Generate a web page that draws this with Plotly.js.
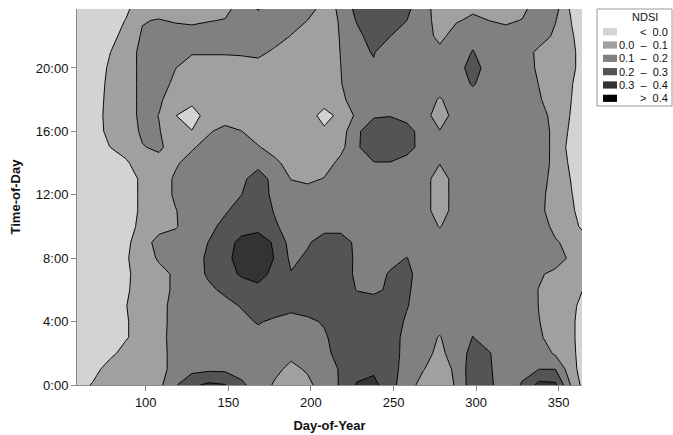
<!DOCTYPE html>
<html>
<head>
<meta charset="utf-8">
<script src="https://cdn.plot.ly/plotly-3.0.1.min.js"></script>
<style>html,body{margin:0;padding:0;background:#fff;}</style>
</head>
<body>
<div id="chart" style="width:673px;height:435px;"></div>
<script>
// Grid of the NDSI field: day-of-year columns, hour-of-day rows
const dayOfYear = [58, 68, 78, 88, 98, 108, 118, 128, 138, 148, 158, 168, 178, 188, 198, 208,
                   218, 228, 238, 248, 258, 268, 278, 288, 298, 308, 318, 328, 338, 348, 358, 366];
const hourOfDay = [0, 1, 2, 3, 4, 5, 6, 7, 8, 9, 10, 11, 12, 13, 14, 15, 16, 17, 18, 19, 20, 21, 22, 23, 24];

// NDSI values, one row per hour (0:00 at the top of the list)
const ndsi = [
  [-0.05, 0.01, 0.04, 0.05, 0.06, 0.073, 0.19, 0.28, 0.32, 0.305, 0.22, 0.15, 0.09, 0.05, 0.08, 0.14, 0.21, 0.31, 0.33, 0.23, 0.15, 0.06, 0.04, 0.11, 0.26, 0.22, 0.14, 0.21, 0.33, 0.32, 0.08, -0.05],
  [-0.05, -0.04, 0.045, 0.05, 0.06, 0.075, 0.125, 0.17, 0.18, 0.18, 0.16, 0.13, 0.12, 0.08, 0.11, 0.15, 0.21, 0.26, 0.28, 0.24, 0.16, 0.105, 0.05, 0.12, 0.26, 0.21, 0.15, 0.17, 0.199, 0.199, 0.03, -0.05],
  [-0.05, -0.05, -0.03, 0.04, 0.05, 0.07, 0.13, 0.15, 0.15, 0.15, 0.14, 0.13, 0.12, 0.12, 0.14, 0.17, 0.24, 0.27, 0.28, 0.24, 0.17, 0.12, 0.085, 0.13, 0.24, 0.205, 0.15, 0.16, 0.16, 0.085, 0.02, -0.05],
  [-0.05, -0.05, -0.04, -0.01, 0.05, 0.07, 0.135, 0.15, 0.16, 0.16, 0.15, 0.16, 0.15, 0.15, 0.16, 0.185, 0.25, 0.27, 0.27, 0.23, 0.18, 0.13, 0.095, 0.15, 0.202, 0.16, 0.15, 0.16, 0.11, 0.07, 0.015, -0.05],
  [-0.05, -0.05, -0.04, -0.01, 0.05, 0.07, 0.13, 0.15, 0.16, 0.16, 0.17, 0.21, 0.18, 0.17, 0.18, 0.21, 0.25, 0.27, 0.27, 0.24, 0.19, 0.15, 0.13, 0.15, 0.18, 0.16, 0.15, 0.15, 0.102, 0.07, 0.015, -0.05],
  [-0.05, -0.05, -0.04, -0.003, 0.05, 0.07, 0.13, 0.15, 0.16, 0.17, 0.207, 0.24, 0.26, 0.224, 0.245, 0.26, 0.27, 0.26, 0.25, 0.26, 0.205, 0.16, 0.15, 0.15, 0.16, 0.15, 0.15, 0.15, 0.098, 0.07, 0.028, -0.05],
  [-0.05, -0.05, -0.04, -0.015, 0.05, 0.07, 0.115, 0.15, 0.18, 0.22, 0.26, 0.27, 0.27, 0.26, 0.26, 0.26, 0.25, 0.195, 0.18, 0.216, 0.213, 0.16, 0.15, 0.15, 0.15, 0.15, 0.15, 0.15, 0.097, 0.07, 0.045, -0.01],
  [-0.05, -0.05, -0.04, -0.02, 0.049, 0.07, 0.115, 0.15, 0.215, 0.27, 0.31, 0.34, 0.27, 0.205, 0.25, 0.26, 0.25, 0.18, 0.16, 0.21, 0.222, 0.16, 0.15, 0.15, 0.15, 0.15, 0.15, 0.15, 0.113, 0.075, 0.055, 0.03],
  [-0.05, -0.05, -0.04, -0.01, 0.049, 0.112, 0.14, 0.16, 0.216, 0.25, 0.37, 0.38, 0.295, 0.18, 0.215, 0.26, 0.26, 0.178, 0.15, 0.17, 0.203, 0.15, 0.15, 0.15, 0.15, 0.15, 0.15, 0.15, 0.15, 0.15, 0.075, 0.05],
  [-0.05, -0.05, -0.04, -0.02, 0.049, 0.14, 0.14, 0.15, 0.202, 0.27, 0.32, 0.34, 0.29, 0.16, 0.19, 0.24, 0.24, 0.18, 0.16, 0.16, 0.16, 0.15, 0.15, 0.15, 0.15, 0.15, 0.15, 0.15, 0.15, 0.11, 0.07, 0.05],
  [-0.05, -0.05, -0.05, -0.04, 0.028, 0.06, 0.093, 0.14, 0.16, 0.24, 0.27, 0.276, 0.213, 0.16, 0.16, 0.17, 0.17, 0.16, 0.15, 0.15, 0.15, 0.15, 0.095, 0.15, 0.15, 0.15, 0.15, 0.15, 0.15, 0.073, 0.04, -0.037],
  [-0.05, -0.05, -0.05, -0.05, 0.02, 0.06, 0.097, 0.13, 0.15, 0.183, 0.26, 0.26, 0.193, 0.16, 0.15, 0.15, 0.15, 0.15, 0.15, 0.15, 0.15, 0.15, 0.04, 0.15, 0.15, 0.15, 0.15, 0.15, 0.116, 0.07, 0.013, -0.05],
  [-0.05, -0.05, -0.05, -0.05, 0.02, 0.06, 0.111, 0.13, 0.15, 0.17, 0.199, 0.26, 0.17, 0.15, 0.15, 0.15, 0.15, 0.15, 0.15, 0.15, 0.15, 0.15, 0.04, 0.15, 0.15, 0.15, 0.15, 0.15, 0.12, 0.07, 0.002, -0.05],
  [-0.05, -0.05, -0.05, -0.05, 0.02, 0.06, 0.111, 0.13, 0.15, 0.16, 0.186, 0.23, 0.18, 0.097, 0.077, 0.105, 0.15, 0.15, 0.15, 0.15, 0.15, 0.15, 0.04, 0.15, 0.15, 0.15, 0.15, 0.15, 0.128, 0.075, -0.008, -0.05],
  [-0.05, -0.05, -0.05, -0.015, 0.056, 0.07, 0.09, 0.13, 0.15, 0.15, 0.16, 0.18, 0.124, 0.06, 0.05, 0.05, 0.13, 0.15, 0.195, 0.195, 0.15, 0.15, 0.105, 0.15, 0.15, 0.15, 0.15, 0.15, 0.145, 0.075, -0.025, -0.05],
  [-0.05, -0.05, -0.002, 0.04, 0.095, 0.115, 0.06, 0.091, 0.13, 0.15, 0.14, 0.108, 0.06, 0.05, 0.05, 0.05, 0.07, 0.188, 0.26, 0.27, 0.25, 0.15, 0.15, 0.15, 0.15, 0.15, 0.15, 0.15, 0.146, 0.075, -0.045, -0.05],
  [-0.05, -0.05, 0.026, 0.05, 0.115, 0.105, 0.05, 0.005, 0.09, 0.13, 0.102, 0.05, 0.05, 0.05, 0.05, 0.02, 0.05, 0.187, 0.25, 0.27, 0.246, 0.15, 0.105, 0.15, 0.15, 0.15, 0.15, 0.15, 0.146, 0.075, -0.025, -0.05],
  [-0.05, -0.05, 0.033, 0.05, 0.127, 0.098, 0.003, -0.06, 0.06, 0.05, 0.05, 0.05, 0.05, 0.05, 0.05, -0.04, 0.03, 0.12, 0.19, 0.195, 0.16, 0.15, 0.04, 0.15, 0.15, 0.15, 0.15, 0.15, 0.128, 0.075, -0.011, -0.05],
  [-0.05, -0.05, 0.026, 0.05, 0.127, 0.115, 0.05, 0.04, 0.05, 0.05, 0.05, 0.05, 0.05, 0.05, 0.05, 0.05, 0.077, 0.15, 0.15, 0.15, 0.15, 0.15, 0.09, 0.15, 0.15, 0.15, 0.15, 0.15, 0.108, 0.06, -0.002, -0.05],
  [-0.05, -0.05, 0.019, 0.05, 0.127, 0.15, 0.073, 0.05, 0.05, 0.05, 0.05, 0.05, 0.05, 0.05, 0.05, 0.05, 0.096, 0.15, 0.15, 0.15, 0.15, 0.15, 0.15, 0.15, 0.21, 0.15, 0.15, 0.15, 0.098, 0.06, 0.003, -0.05],
  [-0.05, -0.05, 0.01, 0.05, 0.127, 0.15, 0.102, 0.05, 0.05, 0.05, 0.05, 0.05, 0.05, 0.05, 0.05, 0.05, 0.099, 0.15, 0.19, 0.15, 0.15, 0.15, 0.15, 0.15, 0.25, 0.15, 0.15, 0.15, 0.083, 0.05, 0.02, -0.05],
  [-0.05, -0.05, -0.004, 0.05, 0.127, 0.15, 0.15, 0.11, 0.11, 0.11, 0.115, 0.13, 0.08, 0.05, 0.05, 0.05, 0.102, 0.18, 0.205, 0.15, 0.15, 0.15, 0.13, 0.15, 0.205, 0.15, 0.15, 0.15, 0.077, 0.05, 0.02, -0.05],
  [-0.05, -0.05, -0.04, 0.04, 0.11, 0.15, 0.15, 0.15, 0.15, 0.15, 0.15, 0.15, 0.15, 0.095, 0.05, 0.05, 0.105, 0.17, 0.25, 0.201, 0.15, 0.15, 0.07, 0.15, 0.17, 0.15, 0.15, 0.15, 0.15, 0.08, 0.008, -0.05],
  [-0.05, -0.05, -0.05, 0.004, 0.095, 0.105, 0.09, 0.08, 0.095, 0.105, 0.15, 0.15, 0.15, 0.15, 0.099, 0.05, 0.11, 0.21, 0.27, 0.25, 0.201, 0.15, 0.05, 0.09, 0.12, 0.099, 0.08, 0.105, 0.15, 0.105, -0.005, -0.05],
  [-0.05, -0.05, -0.05, -0.03, 0.056, 0.05, 0.05, 0.05, 0.05, 0.06, 0.13, 0.23, 0.15, 0.15, 0.15, 0.08, 0.11, 0.25, 0.27, 0.26, 0.23, 0.14, 0.05, 0.05, 0.07, 0.05, 0.05, 0.06, 0.15, 0.15, -0.0375, -0.05]
];

// Contour classes and their legend entries
const levelStart = 0.0, levelEnd = 0.4, levelStep = 0.1;
const levelLabels = ['<  0.0', '0.0  \u2013  0.1', '0.1  \u2013  0.2', '0.2  \u2013  0.3', '0.3  \u2013  0.4', '>  0.4'];
const levelColors = ['#d3d3d3', '#a0a0a0', '#808080', '#545454', '#333333', '#000000'];

const dayTicks = [100, 150, 200, 250, 300, 350];
const hourTicks = [0, 4, 8, 12, 16, 20];
const hourTickText = ['0:00', '4:00', '8:00', '12:00', '16:00', '20:00'];

// Stepped colour scale: each band is coloured at its centre value
const stops = [0, 0.2, 0.4, 0.6, 0.8, 0.95, 1];
const colorscale = [];
levelColors.forEach((c, i) => { colorscale.push([stops[i], c]); colorscale.push([stops[i + 1], c]); });

const FONT = 'Liberation Sans, Arial, sans-serif';

const trace = {
  type: 'contour',
  x: dayOfYear,
  y: hourOfDay,
  z: ndsi,
  autocontour: false,
  contours: { start: levelStart, end: levelEnd, size: levelStep, coloring: 'fill', showlines: true },
  colorscale: colorscale,
  showscale: false,
  line: { color: '#000', width: 1, smoothing: 0 },
  hoverinfo: 'skip'
};

// Plot-area frame in pixels, used to place the legend block outside it
const frame = { left: 77, top: 9, width: 505, height: 376 };
const fx = px => (px - frame.left) / frame.width;
const fy = py => (frame.top + frame.height - py) / frame.height;

const shapes = [{
  type: 'rect', xref: 'paper', yref: 'paper',
  x0: fx(597), x1: fx(672), y0: fy(106), y1: fy(9),
  line: { color: '#9a9a9a', width: 1 }, fillcolor: '#ffffff'
}];
const annotations = [{
  xref: 'paper', yref: 'paper', x: fx(645), y: fy(16.5), xanchor: 'center', yanchor: 'middle',
  text: 'NDSI', showarrow: false, font: { family: FONT, size: 11, color: '#111' }
}];
levelLabels.forEach((lab, i) => {
  const cy = 31.7 + i * 13.32;
  shapes.push({
    type: 'rect', xref: 'paper', yref: 'paper',
    x0: fx(603), x1: fx(617), y0: fy(cy + 3.6), y1: fy(cy - 3.6),
    line: { width: 0 }, fillcolor: levelColors[i]
  });
  annotations.push({
    xref: 'paper', yref: 'paper', x: fx(670), y: fy(cy), xanchor: 'right', yanchor: 'middle',
    text: lab, showarrow: false, font: { family: FONT, size: 11, color: '#111' }
  });
});

const layout = {
  width: 673, height: 435,
  margin: { l: 77, r: 91, t: 9, b: 50, pad: 0 },
  paper_bgcolor: '#ffffff', plot_bgcolor: '#ffffff',
  showlegend: false,
  font: { family: FONT, size: 13, color: '#111' },
  xaxis: {
    range: [58.4, 364.1], tickvals: dayTicks, ticks: 'outside', ticklen: 5, tickwidth: 1,
    tickcolor: '#8a8a8a', showline: true, linecolor: '#8a8a8a', linewidth: 1,
    showgrid: false, zeroline: false, tickfont: { family: FONT, size: 13, color: '#111' },
    title: { text: '<b>Day-of-Year</b>', font: { family: FONT, size: 13, color: '#111' }, standoff: 12 }
  },
  yaxis: {
    range: [0, 23.72], tickvals: hourTicks, ticktext: hourTickText, ticks: 'outside', ticklen: 5,
    tickwidth: 1, tickcolor: '#8a8a8a', showline: true, linecolor: '#8a8a8a', linewidth: 1,
    showgrid: false, zeroline: false, tickfont: { family: FONT, size: 13, color: '#111' },
    title: { text: '<b>Time-of-Day</b>', font: { family: FONT, size: 13, color: '#111' }, standoff: 12 }
  },
  shapes: shapes,
  annotations: annotations
};

Plotly.newPlot('chart', [trace], layout, { displayModeBar: false, staticPlot: true });
</script>
</body>
</html>
